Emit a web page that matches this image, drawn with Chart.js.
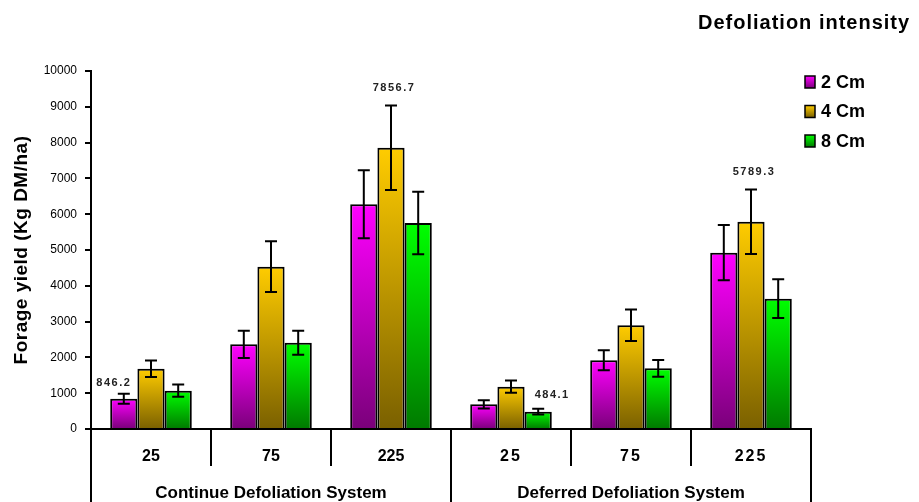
<!DOCTYPE html>
<html>
<head>
<title>Forage yield</title>
<script src="https://cdn.jsdelivr.net/npm/chart.js"></script>
<style>
  body { margin: 0; background: #fff; }
  #wrap { width: 919px; height: 502px; }
</style>
</head>
<body>
<div id="wrap"><canvas id="yieldChart"></canvas></div>
<script>
// data
const doses = ['25', '75', '225', '25', '75', '225'];
const systems = ['Continue Defoliation System', 'Deferred Defoliation System'];
const seriesNames = ['2 Cm', '4 Cm', '8 Cm'];
const yield2cm = [846.2, 2366, 6276, 690, 1919, 4925];
const yield4cm = [1685, 4534, 7856.7, 1182, 2897, 5789.3];
const yield8cm = [1070, 2411, 5754, 484.1, 1695, 3640];
const err2cm = [140, 380, 950, 115, 280, 770];
const err4cm = [230, 710, 1180, 170, 440, 900];
const err8cm = [170, 335, 870, 80, 235, 540];
const yMin = 0, yMax = 10000, yStep = 1000;
// bars carrying a printed value: [series, category]
const printedValues = [[0, 0], [1, 2], [2, 3], [1, 5]];

const FONT = "'Liberation Sans', Arial, sans-serif";
const tops = ['#ff00ff', '#ffcc00', '#00ff00'];
const bottoms = ['#7a007a', '#7a6000', '#007a00'];

function barFill(i) {
    return function (c) {
        const chart = c.chart;
        if (!chart.chartArea || c.raw == null) return tops[i];
        const y = chart.scales.y;
        const y0 = y.getPixelForValue(0);
        const y1 = y.getPixelForValue(c.raw);
        const g = chart.ctx.createLinearGradient(0, y1, 0, y0);
        g.addColorStop(0, tops[i]);
        g.addColorStop(1, bottoms[i]);
        return g;
    };
}

const values = [yield2cm, yield4cm, yield8cm];
const errors = [err2cm, err4cm, err8cm];

// offsets of the printed values from the error bar top
const valueOffsets = [[-10, -11], [3, -18], [14, -14], [3, -18]];

const extras = {
    id: 'extras',
    afterDatasetsDraw(chart) {
        const ctx = chart.ctx;
        const x = chart.scales.x, y = chart.scales.y;
        const area = chart.chartArea;
        ctx.save();

        // error bars
        ctx.strokeStyle = '#000';
        ctx.lineWidth = 2;
        errors.forEach((errs, d) => {
            const meta = chart.getDatasetMeta(d);
            errs.forEach((e, i) => {
                const bx = meta.data[i].x;
                const hi = y.getPixelForValue(values[d][i] + e);
                const lo = y.getPixelForValue(values[d][i] - e);
                ctx.beginPath();
                ctx.moveTo(bx, hi); ctx.lineTo(bx, lo);
                ctx.moveTo(bx - 6, hi); ctx.lineTo(bx + 6, hi);
                ctx.moveTo(bx - 6, lo); ctx.lineTo(bx + 6, lo);
                ctx.stroke();
            });
        });

        // printed values
        ctx.fillStyle = '#222';
        ctx.font = 'bold 11px ' + FONT;
        ctx.letterSpacing = '1.5px';
        ctx.textAlign = 'center';
        ctx.textBaseline = 'middle';
        printedValues.forEach(([d, i], k) => {
            const bx = chart.getDatasetMeta(d).data[i].x;
            const top = y.getPixelForValue(values[d][i] + errors[d][i]);
            ctx.fillText(values[d][i].toFixed(1), bx + valueOffsets[k][0], top + valueOffsets[k][1]);
        });
        ctx.letterSpacing = '0px';

        // category box below the axis
        const half = (x.getPixelForValue(1) - x.getPixelForValue(0)) / 2;
        ctx.strokeStyle = '#000';
        ctx.lineWidth = 2;
        ctx.fillStyle = '#000';
        ctx.font = 'bold 16px ' + FONT;
        doses.forEach((lab, i) => {
            const cx = x.getPixelForValue(i);
            const right = cx + half;
            const full = (i % 3 === 2);
            ctx.beginPath();
            ctx.moveTo(right, area.bottom);
            ctx.lineTo(right, full ? chart.height : area.bottom + 37);
            ctx.stroke();
            ctx.letterSpacing = i < 3 ? '0px' : '2px';
            ctx.fillText(lab, cx, area.bottom + 28);
        });
        ctx.letterSpacing = '0px';
        ctx.beginPath();
        ctx.moveTo(area.left, area.bottom);
        ctx.lineTo(area.left, chart.height);
        ctx.stroke();
        ctx.font = 'bold 17px ' + FONT;
        systems.forEach((s, k) => {
            const cx = (x.getPixelForValue(k * 3) + x.getPixelForValue(k * 3 + 2)) / 2;
            ctx.fillText(s, cx, area.bottom + 64);
        });

        // y axis title
        ctx.save();
        ctx.translate(22, (area.top + area.bottom) / 2);
        ctx.rotate(-Math.PI / 2);
        ctx.font = 'bold 19px ' + FONT;
        ctx.letterSpacing = '0.5px';
        ctx.fillText('Forage yield (Kg DM/ha)', 0, 0);
        ctx.restore();

        // legend
        ctx.textAlign = 'left';
        ctx.font = 'bold 20px ' + FONT;
        ctx.letterSpacing = '1px';
        ctx.fillText('Defoliation intensity', 698, 23);
        ctx.letterSpacing = '0px';
        ctx.font = 'bold 18px ' + FONT;
        seriesNames.forEach((n, i) => {
            const cy = 82 + i * 29.5;
            const g = ctx.createLinearGradient(0, cy - 6, 0, cy + 6);
            g.addColorStop(0, tops[i]);
            g.addColorStop(1, bottoms[i]);
            ctx.fillStyle = g;
            ctx.fillRect(805, cy - 6, 10, 12);
            ctx.lineWidth = 1.5;
            ctx.strokeRect(805, cy - 6, 10, 12);
            ctx.fillStyle = '#000';
            ctx.fillText(n, 821, cy + 1);
        });
        ctx.restore();
    }
};

new Chart(document.getElementById('yieldChart'), {
    type: 'bar',
    data: {
        labels: doses,
        datasets: seriesNames.map((n, i) => ({
            label: n,
            data: values[i],
            backgroundColor: barFill(i),
            borderColor: '#000',
            borderWidth: 2,
            borderSkipped: 'bottom',
            categoryPercentage: 0.68,
            barPercentage: 1
        }))
    },
    options: {
        responsive: true,
        maintainAspectRatio: false,
        animation: false,
        layout: { padding: { top: 71, right: 108, left: 0, bottom: 0 } },
        plugins: { legend: { display: false }, tooltip: { enabled: false } },
        scales: {
            x: {
                ticks: { display: false },
                grid: { display: false },
                border: { display: true, color: '#000', width: 2 },
                afterFit: s => { s.height = 73; }
            },
            y: {
                min: yMin,
                max: yMax,
                ticks: {
                    stepSize: yStep,
                    color: '#000',
                    padding: 8,
                    font: { family: FONT, size: 12 },
                    callback: v => String(v)
                },
                grid: { drawOnChartArea: false, drawTicks: true, tickLength: 6, color: '#000', lineWidth: 2 },
                border: { display: true, color: '#000', width: 2 },
                afterFit: s => { s.width = 91; }
            }
        }
    },
    plugins: [extras]
});
</script>
</body>
</html>
